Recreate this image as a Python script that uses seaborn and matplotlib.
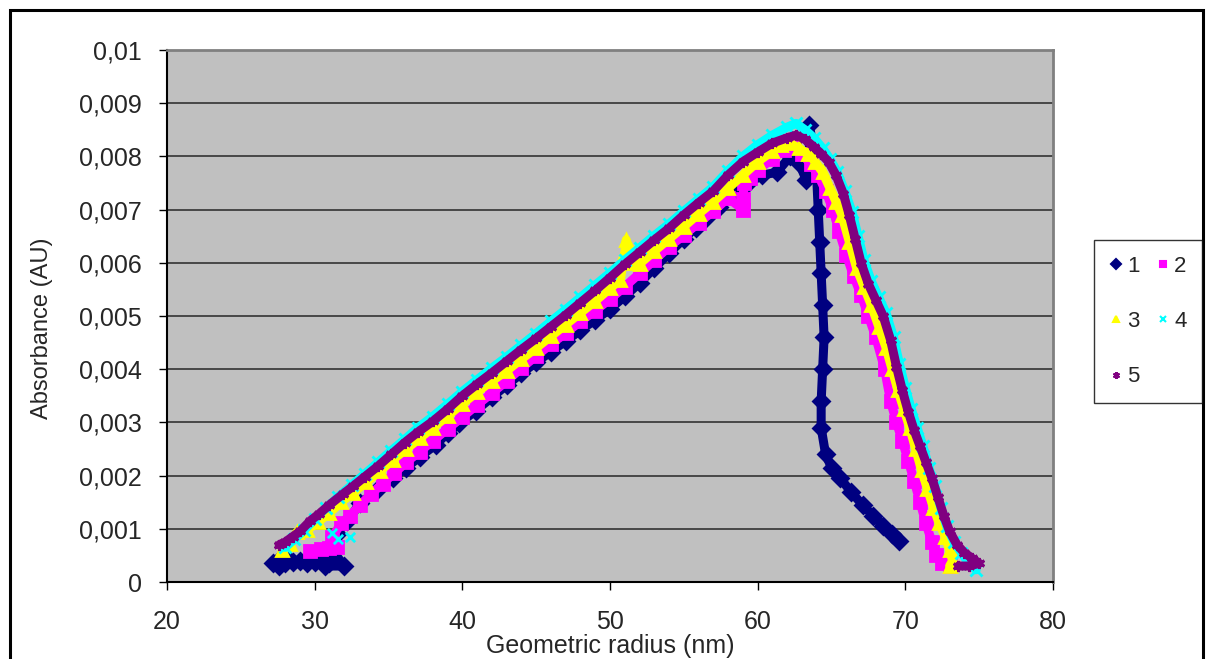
import numpy as np
import pandas as pd
import seaborn as sns
import matplotlib.pyplot as plt
from matplotlib.lines import Line2D
from matplotlib.patches import Rectangle

# series 1 (navy, diamonds)
x1 = [27.2, 27.6, 28.0, 27.9, 28.5, 29.0, 29.5, 30.0, 30.5, 31.0, 30.7, 32.0,
      31.2, 31.5, 32.2, 33.1, 34.2, 35.3, 36.2, 37.1, 38.2, 39.0, 39.8, 40.9,
      42.0, 43.0, 44.0, 45.0, 46.0, 47.0, 48.0, 49.0, 50.0, 51.0, 52.0, 53.0,
      54.0, 55.0, 55.8, 56.5, 57.4, 58.3, 59.3, 60.3, 61.3, 62.2, 62.8, 63.3,
      63.5, 63.5, 63.8, 64.0, 64.1, 64.2, 64.3, 64.4, 64.5, 64.4, 64.3, 64.3,
      64.6, 65.0, 65.6, 66.3, 67.1, 67.8, 68.5, 69.1, 69.6]
y1 = [0.00035, 0.00030, 0.00035, 0.00050, 0.00038, 0.00040, 0.00035, 0.00038,
      0.00042, 0.00035, 0.00030, 0.00030, 0.00060, 0.00090, 0.00115, 0.00148,
      0.00172, 0.00195, 0.00215, 0.00235, 0.00258, 0.00280, 0.00298, 0.00322,
      0.00347, 0.00370, 0.00392, 0.00413, 0.00433, 0.00453, 0.00473, 0.00493,
      0.00513, 0.00537, 0.00562, 0.00590, 0.00618, 0.00645, 0.00666, 0.00684,
      0.00705, 0.00730, 0.00748, 0.00765, 0.00770, 0.00800, 0.00788, 0.00755,
      0.00800, 0.00859, 0.00810, 0.00760, 0.00700, 0.00640, 0.00580, 0.00520,
      0.00460, 0.00400, 0.00340, 0.00290, 0.00240, 0.00215, 0.00195, 0.00170,
      0.00145, 0.00125, 0.00105, 0.00090, 0.00078]

# series 2 (magenta, squares)
x2 = [29.7, 30.4, 31.0, 31.5, 31.2, 31.8, 32.4, 33.1, 33.8, 34.6, 35.4, 36.2,
      37.1, 38.0, 39.0, 40.0, 41.0, 42.0, 43.0, 44.0, 45.0, 46.0, 47.0, 48.0,
      49.0, 50.0, 51.0, 52.0, 53.0, 54.0, 55.0, 56.0, 57.0, 58.0, 59.0, 59.0,
      59.1, 59.5, 60.0, 61.0, 61.8, 62.4, 63.0, 63.6, 64.1, 64.6, 65.1, 65.5,
      66.0, 66.5, 67.0, 67.5, 68.0, 68.6, 69.0, 69.4, 69.8, 70.2, 70.6, 71.0,
      71.4, 71.8, 72.1, 72.5, 73.0]
y2 = [0.00058, 0.00062, 0.00064, 0.00065, 0.00085, 0.00110, 0.00125, 0.00145,
      0.00165, 0.00185, 0.00205, 0.00225, 0.00245, 0.00265, 0.00288, 0.00310,
      0.00333, 0.00355, 0.00378, 0.00402, 0.00425, 0.00447, 0.00468, 0.00490,
      0.00510, 0.00532, 0.00555, 0.00580, 0.00605, 0.00630, 0.00652, 0.00675,
      0.00697, 0.00722, 0.00700, 0.00720, 0.00750, 0.00760, 0.00775, 0.00795,
      0.00812, 0.00818, 0.00805, 0.00785, 0.00765, 0.00735, 0.00700, 0.00660,
      0.00615, 0.00575, 0.00540, 0.00500, 0.00460, 0.00400, 0.00340, 0.00300,
      0.00265, 0.00228, 0.00190, 0.00150, 0.00110, 0.00075, 0.00050, 0.00035,
      0.00030]

# series 3 (yellow, triangles)
x3 = [27.8, 28.3, 28.8, 29.5, 30.2, 31.0, 31.8, 32.6, 33.5, 34.4, 35.3, 36.2,
      37.1, 38.0, 39.0, 40.0, 41.0, 42.0, 43.0, 44.0, 45.0, 46.0, 47.0, 48.0,
      49.0, 50.0, 50.7, 51.0, 51.1, 51.3, 52.0, 53.0, 54.0, 55.0, 56.0, 57.0,
      58.0, 59.0, 60.0, 61.0, 61.6, 62.2, 62.8, 63.4, 63.9, 64.4, 64.9, 65.3,
      65.7, 66.2, 66.7, 67.2, 67.7, 68.2, 68.7, 69.1, 69.5, 69.9, 70.3, 70.7,
      71.1, 71.5, 71.9, 72.3, 72.7, 73.0, 73.2, 73.0]
y3 = [0.00060, 0.00072, 0.00094, 0.00098, 0.00112, 0.00130, 0.00150, 0.00168,
      0.00188, 0.00208, 0.00230, 0.00250, 0.00270, 0.00290, 0.00312, 0.00335,
      0.00357, 0.00378, 0.00397, 0.00419, 0.00440, 0.00462, 0.00484, 0.00506,
      0.00528, 0.00552, 0.00568, 0.00620, 0.00643, 0.00600, 0.00598, 0.00622,
      0.00645, 0.00668, 0.00692, 0.00715, 0.00740, 0.00765, 0.00790, 0.00810,
      0.00822, 0.00825, 0.00815, 0.00805, 0.00790, 0.00770, 0.00740, 0.00715,
      0.00690, 0.00640, 0.00590, 0.00555, 0.00520, 0.00480, 0.00440, 0.00400,
      0.00360, 0.00325, 0.00290, 0.00250, 0.00210, 0.00175, 0.00140, 0.00110,
      0.00085, 0.00060, 0.00040, 0.00030]

# series 4 (cyan, crosses)
x4 = [28.0, 28.6, 29.3, 30.0, 30.8, 31.6, 32.5, 33.4, 34.3, 35.2,
      36.1, 37.0, 38.0, 39.0, 40.0, 41.0, 42.0, 43.0, 44.0, 45.0, 46.0, 47.0,
      48.0, 49.0, 50.0, 51.0, 52.0, 53.0, 54.0, 55.0, 56.0, 57.0, 58.0, 59.0,
      60.0, 61.0, 62.0, 62.6, 63.2, 63.8, 64.4, 64.9, 65.4, 65.9, 66.4, 66.8,
      67.2, 67.7, 68.2, 68.7, 69.2, 69.6, 70.0, 70.4, 70.8, 71.2, 71.6, 72.0,
      72.4, 72.8, 73.3, 73.8, 74.3, 74.8]
y4 = [0.00065, 0.00080, 0.00098, 0.00118, 0.00140, 0.00160,
      0.00182, 0.00203, 0.00225, 0.00247, 0.00268, 0.00290, 0.00311, 0.00334,
      0.00358, 0.00380, 0.00402, 0.00423, 0.00445, 0.00467, 0.00490, 0.00512,
      0.00535, 0.00558, 0.00581, 0.00605, 0.00628, 0.00651, 0.00673, 0.00697,
      0.00720, 0.00743, 0.00773, 0.00800, 0.00822, 0.00840, 0.00855, 0.00862,
      0.00850, 0.00835, 0.00815, 0.00795, 0.00770, 0.00735, 0.00695, 0.00650,
      0.00605, 0.00565, 0.00535, 0.00505, 0.00460, 0.00410, 0.00365, 0.00325,
      0.00290, 0.00255, 0.00215, 0.00180, 0.00140, 0.00105, 0.00075, 0.00055,
      0.00035, 0.00023]
# stray cyan readings near the start
x4_stray = [31.2, 31.6, 32.4]
y4_stray = [0.00092, 0.00080, 0.00085]

# series 5 (purple, stars)
x5 = [27.6, 28.0, 28.5, 29.0, 29.7, 30.3, 31.0, 31.9, 32.6, 33.4, 34.3, 35.2,
      36.1, 37.0, 38.0, 39.0, 40.0, 41.0, 42.0, 43.0, 44.0, 45.0, 46.0, 47.0,
      48.0, 49.0, 50.0, 51.0, 52.0, 53.0, 54.0, 55.0, 56.0, 57.0, 58.0, 59.0,
      60.0, 61.0, 62.0, 62.6, 63.2, 63.8, 64.3, 64.8, 65.3, 65.8, 66.2, 66.6,
      67.0, 67.5, 68.0, 68.5, 69.0, 69.4, 69.8, 70.2, 70.6, 71.0, 71.4, 71.8,
      72.2, 72.6, 73.0, 73.5, 74.0, 74.5, 75.0, 74.3, 73.6]
y5 = [0.00070, 0.00075, 0.00085, 0.00095, 0.00115, 0.00128, 0.00145, 0.00165,
      0.00180, 0.00198, 0.00218, 0.00240, 0.00262, 0.00282, 0.00302, 0.00325,
      0.00350, 0.00372, 0.00393, 0.00415, 0.00437, 0.00458, 0.00480, 0.00502,
      0.00525, 0.00548, 0.00572, 0.00597, 0.00620, 0.00643, 0.00665, 0.00690,
      0.00713, 0.00735, 0.00765, 0.00790, 0.00808, 0.00825, 0.00835, 0.00840,
      0.00832, 0.00818, 0.00805, 0.00790, 0.00765, 0.00730, 0.00690, 0.00645,
      0.00600, 0.00560, 0.00530, 0.00500, 0.00455, 0.00405, 0.00360, 0.00320,
      0.00285, 0.00255, 0.00225, 0.00195, 0.00160, 0.00125, 0.00095, 0.00070,
      0.00055, 0.00045, 0.00035, 0.00030, 0.00030]

series_names = ["1", "2", "3", "4", "5"]
series_colors = ["#000080", "#FF00FF", "#FFFF00", "#00FFFF", "#800080"]
series_markers = ["D", "s", "^", "x", (6, 2, 0)]

x_ticks = [20, 30, 40, 50, 60, 70, 80]
y_ticks = [0, 0.001, 0.002, 0.003, 0.004, 0.005, 0.006, 0.007, 0.008, 0.009, 0.01]

sns.set_style("ticks")
plt.rcParams["font.family"] = ["Liberation Sans", "DejaVu Sans"]

fig = plt.figure(figsize=(12.1, 6.59), dpi=100)
ax = fig.add_axes([167 / 1210, 1 - 582 / 659, 886 / 1210, 532 / 659])
ax.set_facecolor("#C0C0C0")

all_x = [x1, x2, x3, x4, x5]
all_y = [y1, y2, y3, y4, y5]
for i, (xs, ys) in enumerate(zip(all_x, all_y)):
    c, m = series_colors[i], series_markers[i]
    df = pd.DataFrame({"x": xs, "y": ys})
    sns.lineplot(data=df, x="x", y="y", sort=False, estimator=None, color=c,
                 lw=6.5, marker=m, ms=8, mec=c, mew=2, ax=ax, legend=False,
                 zorder=3 + i)
    if i == 3:
        sns.scatterplot(x=x4_stray, y=y4_stray, color=c, marker="x", s=45,
                        linewidth=2, ax=ax, legend=False, zorder=3 + i)

ax.set_xlim(20, 80)
ax.set_ylim(0, 0.01)
ax.set_xticks(x_ticks)
ax.set_yticks(y_ticks)
ax.set_xticklabels([str(v) for v in x_ticks])
ax.set_yticklabels([f"{v:g}".replace(".", ",") for v in y_ticks])
ax.tick_params(axis="both", labelsize=18, length=6, width=1, color="black",
               direction="out")
ax.tick_params(axis="y", pad=12)
ax.tick_params(axis="x", pad=14)
ax.yaxis.grid(True, color="#333333", lw=1.2)
ax.xaxis.grid(False)
ax.set_axisbelow(True)

for side in ["left", "bottom"]:
    ax.spines[side].set_color("black")
    ax.spines[side].set_linewidth(1.5)
for side in ["top", "right"]:
    ax.spines[side].set_visible(True)
    ax.spines[side].set_color("#808080")
    ax.spines[side].set_linewidth(2)

ax.set_xlabel("Geometric radius (nm)", fontsize=18)
ax.set_ylabel("Absorbance (AU)", fontsize=17)
ax.xaxis.label.set_va("center")
ax.yaxis.label.set_va("center")
ax.xaxis.set_label_coords(0.5, (582 - 646) / 532)
ax.yaxis.set_label_coords((42 - 167) / 886, (582 - 328) / 532)

# legend filled row by row: 1 2 / 3 4 / 5
order = [0, 2, 4, 1, 3]
handles = [Line2D([], [], ls="none", marker=series_markers[k], color=series_colors[k],
                  mec=series_colors[k], ms=5, mew=1.5) for k in order]
labels = [series_names[k] for k in order]
leg = fig.legend(handles, labels, loc="upper left",
                 bbox_to_anchor=(1094 / 1210, 1 - 240 / 659), ncol=2,
                 fontsize=16, frameon=True, fancybox=False, borderpad=0.7,
                 labelspacing=1.55, handlelength=0.6, handletextpad=0.2,
                 columnspacing=0.75, borderaxespad=0)
leg.get_frame().set_edgecolor("black")
leg.get_frame().set_linewidth(1)

fig.patches.append(Rectangle((10 / 1210, -0.05), (1203 - 10) / 1210,
                             1 - 10 / 659 + 0.05, transform=fig.transFigure,
                             fill=False, ec="black", lw=2.2))

fig.savefig("out.png", dpi=100)
